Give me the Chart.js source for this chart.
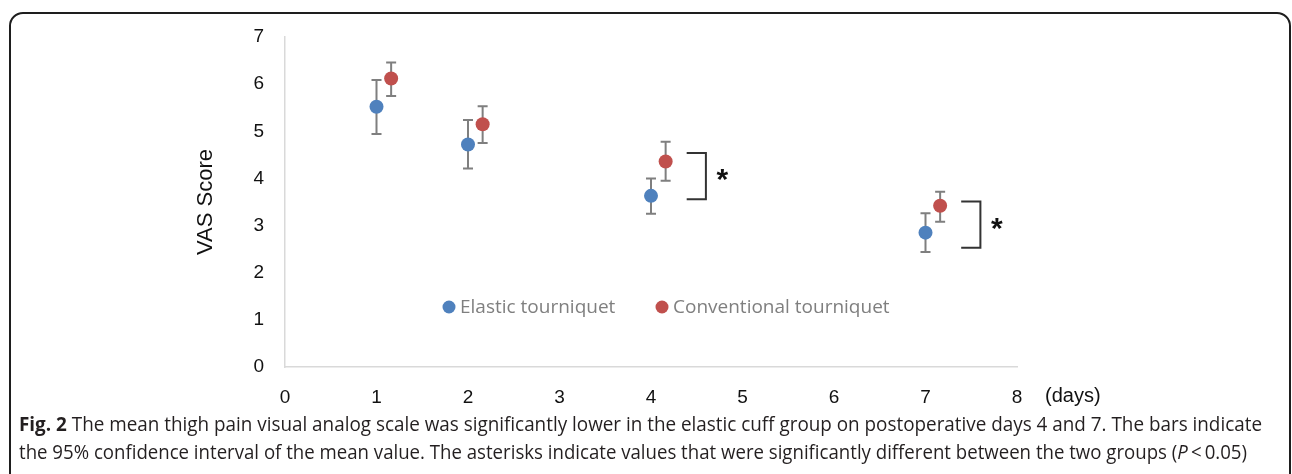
<!DOCTYPE html>
<html><head><meta charset="utf-8">
<script src="https://cdn.jsdelivr.net/npm/chart.js@4.4.1/dist/chart.umd.min.js"></script>
<style>
html,body{margin:0;padding:0;background:#fff;width:1292px;height:474px;overflow:hidden;}
#frame{position:absolute;left:9px;top:12px;width:1282px;height:520px;border:2px solid #1e1e1e;border-radius:14px;box-sizing:border-box;}
#c{position:absolute;left:0;top:0;}
.cap{position:absolute;left:19px;white-space:nowrap;font-family:'Open Sans',sans-serif;font-size:19.5px;line-height:22px;color:#231f20;transform-origin:0 50%;}
.cap b{font-weight:700;}
</style></head><body>
<div id="frame"></div>
<canvas id="c" width="1292" height="474"></canvas>
<div class="cap" id="cap1" style="top:413px"><b>Fig. 2</b> The mean thigh pain visual analog scale was significantly lower in the elastic cuff group on postoperative days 4 and 7. The bars indicate</div>
<div class="cap" id="cap2" style="top:441px">the 95% confidence interval of the mean value. The asterisks indicate values that were significantly different between the two groups (<i>P</i>&thinsp;&lt;&thinsp;0.05)</div>
<script>
// ---- data ----
const days = [1, 2, 4, 7];
const elasticMean = [5.52, 4.72, 3.63, 2.85];
const elasticLow  = [4.94, 4.21, 3.25, 2.44];
const elasticHigh = [6.09, 5.24, 4.00, 3.26];
const convMean = [6.12, 5.15, 4.36, 3.42];
const convLow  = [5.75, 4.75, 3.95, 3.08];
const convHigh = [6.46, 5.53, 4.78, 3.72];
const xTickValues = [0, 1, 2, 3, 4, 5, 6, 7, 8];
const yTickValues = [0, 1, 2, 3, 4, 5, 6, 7];
const seriesNames = ['Elastic tourniquet', 'Conventional tourniquet'];
const sigDays = [4, 7];
const sigTop = [4.54, 3.51];
const sigBottom = [3.56, 2.53];
const xUnitLabel = '(days)';
const yTitle = 'VAS Score';

// ---- styling ----
const convOffset = 0.16;
const BLUE = '#4f81bd', RED = '#c0504d';

const elasticPts = days.map((d, i) => ({x: d, y: elasticMean[i], lo: elasticLow[i], hi: elasticHigh[i]}));
const convPts = days.map((d, i) => ({x: d + convOffset, y: convMean[i], lo: convLow[i], hi: convHigh[i]}));

const extras = {
  id: 'extras',
  beforeDatasetsDraw(chart) {
    const {ctx, scales: {x, y}} = chart;
    ctx.save();
    ctx.strokeStyle = '#7f7f7f';
    ctx.lineWidth = 2;
    chart.data.datasets.forEach(ds => {
      ds.data.forEach(p => {
        const px = x.getPixelForValue(p.x);
        const yl = y.getPixelForValue(p.lo), yh = y.getPixelForValue(p.hi);
        ctx.beginPath();
        ctx.moveTo(px, yl); ctx.lineTo(px, yh);
        ctx.moveTo(px - 5, yl); ctx.lineTo(px + 5, yl);
        ctx.moveTo(px - 5, yh); ctx.lineTo(px + 5, yh);
        ctx.stroke();
      });
    });
    ctx.restore();
  },
  afterDatasetsDraw(chart) {
    const {ctx, scales: {x, y}, chartArea} = chart;
    ctx.save();
    // significance brackets
    ctx.strokeStyle = '#333';
    ctx.lineWidth = 2;
    sigDays.forEach((d, i) => {
      const x0 = x.getPixelForValue(d + 0.39), x1 = x.getPixelForValue(d + 0.60);
      const yt = y.getPixelForValue(sigTop[i]), yb = y.getPixelForValue(sigBottom[i]);
      ctx.beginPath();
      ctx.moveTo(x0, yt); ctx.lineTo(x1, yt); ctx.lineTo(x1, yb); ctx.lineTo(x0, yb);
      ctx.stroke();
      const sx = x.getPixelForValue(d + 0.78);
      const sy = (yt + yb) / 2 - 4;
      ctx.fillStyle = '#111';
      ctx.font = 'bold 30px "Liberation Sans", Arial, sans-serif';
      ctx.textAlign = 'center';
      ctx.textBaseline = 'alphabetic';
      ctx.fillText('*', sx, sy + 0.57 * 30);
    });
    // legend inside plot
    ctx.font = '19px "Open Sans", sans-serif';
    ctx.textBaseline = 'middle';
    ctx.textAlign = 'left';
    const ly = 307;
    const items = [{c: BLUE, t: seriesNames[0], x: 449}, {c: RED, t: seriesNames[1], x: 662}];
    items.forEach(it => {
      ctx.fillStyle = it.c;
      ctx.beginPath(); ctx.arc(it.x, ly, 6.5, 0, Math.PI * 2); ctx.fill();
      ctx.fillStyle = '#7f7f7f';
      ctx.fillText(it.t, it.x + 11, ly + 1);
    });
    // x unit label
    ctx.fillStyle = '#111';
    ctx.font = '20px "Liberation Sans", Arial, sans-serif';
    ctx.textAlign = 'left';
    ctx.fillText(xUnitLabel, chartArea.right + 28, 396);
    ctx.restore();
  }
};

new Chart(document.getElementById('c'), {
  type: 'scatter',
  data: {
    datasets: [
      {label: seriesNames[0], data: elasticPts, backgroundColor: BLUE, borderWidth: 0, pointRadius: 7, pointHoverRadius: 7},
      {label: seriesNames[1], data: convPts, backgroundColor: RED, borderWidth: 0, pointRadius: 7, pointHoverRadius: 7}
    ]
  },
  options: {
    responsive: false,
    animation: false,
    devicePixelRatio: 1,
    layout: {padding: {left: 193, right: 275, top: 37, bottom: 50}},
    plugins: {legend: {display: false}, tooltip: {enabled: false}},
    scales: {
      x: {
        type: 'linear', min: 0, max: 8,
        afterBuildTicks: s => { s.ticks = xTickValues.map(v => ({value: v})); },
        afterFit: s => { s.height = 474 - 367 - 50; },
        grid: {display: false, drawTicks: false},
        border: {display: true, color: '#d9d9d9', width: 1.5},
        ticks: {padding: 19, color: '#111', font: {family: 'Liberation Sans', size: 19}, maxRotation: 0}
      },
      y: {
        type: 'linear', min: 0, max: 7,
        afterBuildTicks: s => { s.ticks = yTickValues.map(v => ({value: v})); },
        afterFit: s => { s.width = 285 - 193; },
        grid: {display: false, drawTicks: false},
        border: {display: true, color: '#d9d9d9', width: 1.5},
        ticks: {padding: 21, color: '#111', font: {family: 'Liberation Sans', size: 19}},
        title: {display: true, text: yTitle, color: '#111', font: {family: 'Liberation Sans', size: 22}, padding: {top: 0, bottom: 0}}
      }
    }
  },
  plugins: [extras]
});

// fit caption lines to original widths
[['cap1', 1243], ['cap2', 1228]].forEach(([id, w]) => {
  const el = document.getElementById(id);
  const nat = el.getBoundingClientRect().width;
  el.style.transform = 'scaleX(' + (w / nat) + ')';
});
</script>
</body></html>
